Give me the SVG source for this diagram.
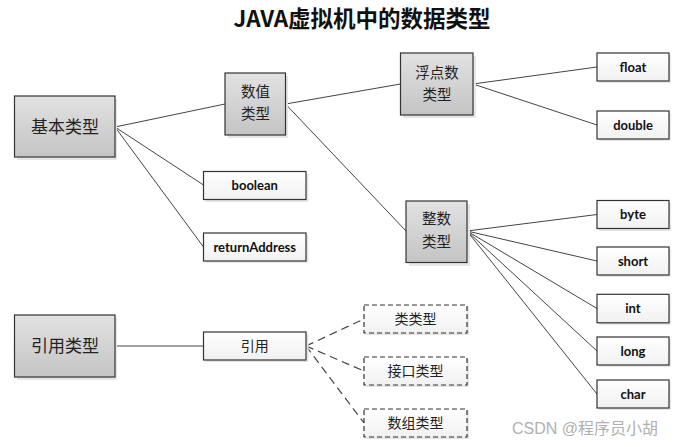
<svg xmlns="http://www.w3.org/2000/svg" width="698" height="447" viewBox="0 0 698 447">
<defs>
<linearGradient id="gGray" x1="0" y1="0" x2="0" y2="1">
<stop offset="0" stop-color="#e2e2e2"/>
<stop offset="1" stop-color="#c4c4c4"/>
</linearGradient>
<linearGradient id="gWhite" x1="0" y1="0" x2="0" y2="1">
<stop offset="0" stop-color="#ffffff"/>
<stop offset="1" stop-color="#f1f1f1"/>
</linearGradient>
</defs>
<style>
.gray{fill:url(#gGray);stroke:#333;stroke-width:1.2}
.white{fill:url(#gWhite);stroke:#333;stroke-width:1.2}
.dash{fill:url(#gWhite);stroke:#333;stroke-width:1.2;stroke-dasharray:5,3}
.shadow{fill:#e6e6e6}
.zh{font-family:"Noto Sans CJK SC","Noto Sans",sans-serif;fill:#222;text-anchor:middle}
.two{font-size:14.5px}
.en{font-family:Lato,"Liberation Sans",sans-serif;font-weight:bold;font-size:13px;fill:#111;text-anchor:middle}
.ln{stroke:#444;stroke-width:1;fill:none}
.dl{stroke:#444;stroke-width:1.2;fill:none;stroke-dasharray:8,5}
</style>
<rect width="698" height="447" fill="#fff"/>
<text x="362" y="27" class="zh" style="font-size:22.5px;font-weight:bold;fill:#111">JAVA虚拟机中的数据类型</text>

<g id="connectors">
<line class="ln" x1="115" y1="127" x2="225" y2="104"/>
<line class="ln" x1="115" y1="127" x2="203.5" y2="185"/>
<line class="ln" x1="115" y1="127" x2="203.5" y2="247"/>
<line class="ln" x1="285.5" y1="104" x2="400.5" y2="84"/>
<line class="ln" x1="285.5" y1="104" x2="406" y2="231"/>
<line class="ln" x1="473" y1="84" x2="597" y2="67"/>
<line class="ln" x1="473" y1="84" x2="597" y2="125"/>
<line class="ln" x1="467" y1="231" x2="597" y2="214.5"/>
<line class="ln" x1="467" y1="231" x2="597" y2="261"/>
<line class="ln" x1="467" y1="231" x2="597" y2="308.5"/>
<line class="ln" x1="467" y1="231" x2="597" y2="351"/>
<line class="ln" x1="467" y1="231" x2="597" y2="394"/>
<line class="ln" x1="115" y1="346" x2="203.5" y2="346"/>
<line class="dl" x1="306" y1="346" x2="364" y2="319"/>
<line class="dl" x1="306" y1="346" x2="364" y2="371"/>
<line class="dl" x1="306" y1="346" x2="364" y2="423"/>
</g>

<g id="n-jiben"><rect class="shadow" x="17" y="99" width="100" height="61"/><rect class="gray" x="14.5" y="96" width="100.5" height="61"/><text class="zh" x="65" y="133" style="font-size:17px">基本类型</text></g>
<g id="n-shuzhi"><rect class="shadow" x="228" y="76" width="60" height="62"/><rect class="gray" x="225" y="73" width="60.5" height="62"/><text class="zh two" x="255.5" y="97">数值</text><text class="zh two" x="255.5" y="119">类型</text></g>
<g id="n-fudian"><rect class="shadow" x="403" y="56" width="73" height="62"/><rect class="gray" x="400.5" y="53" width="72.5" height="62"/><text class="zh two" x="437" y="78">浮点数</text><text class="zh two" x="437" y="100">类型</text></g>
<g id="n-zhengshu"><rect class="shadow" x="409" y="204" width="61" height="62"/><rect class="gray" x="406" y="201" width="61" height="61.5"/><text class="zh two" x="436.5" y="223.5">整数</text><text class="zh two" x="436.5" y="246.5">类型</text></g>
<g id="n-yinyongleixing"><rect class="shadow" x="17" y="318" width="100" height="62"/><rect class="gray" x="14.5" y="315" width="100.5" height="62"/><text class="zh" x="65" y="352" style="font-size:17px">引用类型</text></g>

<g id="n-float"><rect class="shadow" x="599" y="55" width="72" height="28"/><rect class="white" x="597" y="53" width="72" height="28"/><text class="en" x="633" y="71.5">float</text></g>
<g id="n-double"><rect class="shadow" x="599" y="113" width="72" height="28"/><rect class="white" x="597" y="111" width="72" height="28"/><text class="en" x="633" y="129.5">double</text></g>
<g id="n-boolean"><rect class="shadow" x="205.5" y="174" width="103" height="28"/><rect class="white" x="203.5" y="171.5" width="102.5" height="28"/><text class="en" x="254.75" y="190">boolean</text></g>
<g id="n-returnAddress"><rect class="shadow" x="205.5" y="235" width="103" height="28"/><rect class="white" x="203.5" y="233" width="102.5" height="28"/><text class="en" x="254.75" y="251.5">returnAddress</text></g>
<g id="n-byte"><rect class="shadow" x="599" y="203" width="72" height="28"/><rect class="white" x="597" y="200.5" width="72" height="28"/><text class="en" x="633" y="219">byte</text></g>
<g id="n-short"><rect class="shadow" x="599" y="249" width="72" height="28"/><rect class="white" x="597" y="247" width="72" height="28"/><text class="en" x="633" y="265.5">short</text></g>
<g id="n-int"><rect class="shadow" x="599" y="296.5" width="72" height="28.5"/><rect class="white" x="597" y="294.3" width="72" height="28.5"/><text class="en" x="633" y="313">int</text></g>
<g id="n-long"><rect class="shadow" x="599" y="339" width="72" height="28"/><rect class="white" x="597" y="337" width="72" height="28"/><text class="en" x="633" y="355.5">long</text></g>
<g id="n-char"><rect class="shadow" x="599" y="382" width="72" height="28"/><rect class="white" x="597" y="380" width="72" height="28"/><text class="en" x="633" y="398.5">char</text></g>
<g id="n-yinyong"><rect class="shadow" x="205.5" y="334" width="103" height="28"/><rect class="white" x="203.5" y="332" width="102.5" height="28"/><text class="zh" x="254.75" y="351" style="font-size:14px">引用</text></g>
<g id="n-lei"><rect class="shadow" x="366" y="307" width="103" height="28"/><rect class="dash" x="364" y="305" width="103" height="28"/><text class="zh" x="415.5" y="324" style="font-size:14px">类类型</text></g>
<g id="n-jiekou"><rect class="shadow" x="366" y="359" width="103" height="28"/><rect class="dash" x="364" y="357" width="103" height="28"/><text class="zh" x="415.5" y="376" style="font-size:14px">接口类型</text></g>
<g id="n-shuzu"><rect class="shadow" x="366" y="411" width="103" height="28"/><rect class="dash" x="364" y="409" width="103" height="28"/><text class="zh" x="415.5" y="428" style="font-size:14px">数组类型</text></g>

<text x="512" y="434" style="font-family:'Liberation Sans','Noto Sans CJK SC',sans-serif;font-size:16px;fill:#b0b0b0">CSDN @程序员小胡</text>
</svg>
